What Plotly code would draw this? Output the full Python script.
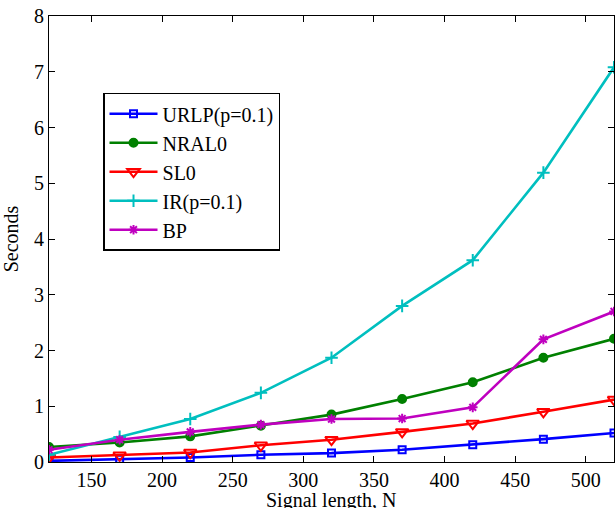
import plotly.graph_objects as go

N = [120, 170, 220, 270, 320, 370, 420, 470, 520]
urlp = [0.02, 0.05, 0.08, 0.13, 0.16, 0.22, 0.31, 0.41, 0.52]
nral0 = [0.27, 0.35, 0.46, 0.65, 0.85, 1.13, 1.43, 1.87, 2.21]
sl0 = [0.08, 0.12, 0.17, 0.30, 0.40, 0.54, 0.69, 0.90, 1.12]
ir = [0.13, 0.45, 0.77, 1.24, 1.87, 2.80, 3.62, 5.19, 7.08]
bp = [0.22, 0.40, 0.54, 0.67, 0.77, 0.78, 0.98, 2.20, 2.70]

series = [
    ("URLP(p=0.1)", urlp, "#0000FF", "square-open", 7),
    ("NRAL0", nral0, "#008000", "circle", 8),
    ("SL0", sl0, "#FF0000", "triangle-down-open", 11),
    ("IR(p=0.1)", ir, "#00BFBF", "cross-thin-open", 9),
    ("BP", bp, "#BF00BF", "asterisk-open", 8),
]

fig = go.Figure()
for name, vals, color, sym, size in series:
    fig.add_trace(go.Scatter(
        x=N, y=vals, name=name, mode="lines+markers",
        line=dict(color=color, width=2.6),
        marker=dict(symbol=sym, size=size, color=color,
                    line=dict(color=color, width=2)),
    ))

font = dict(family="Times New Roman, Liberation Serif, serif", size=20, color="black")
fig.update_layout(
    width=616, height=508,
    margin=dict(l=49, r=2, t=16, b=46),
    paper_bgcolor="white", plot_bgcolor="white",
    font=font,
    showlegend=True,
    legend=dict(x=0.0956, y=0.828, xanchor="left", yanchor="top",
                bordercolor="black", borderwidth=1.5, bgcolor="white",
                font=font, tracegroupgap=0, itemwidth=48),
    xaxis=dict(range=[120, 520], tickvals=[150, 200, 250, 300, 350, 400, 450, 500],
               ticks="inside", ticklen=6, tickcolor="black", showline=True,
               linecolor="black", linewidth=1, mirror="ticks", showgrid=False,
               zeroline=False, automargin=False, ticklabelstandoff=0),
    yaxis=dict(range=[0, 8], tickvals=list(range(0, 9)),
               ticks="inside", ticklen=6, tickcolor="black", showline=True,
               linecolor="black", linewidth=1, mirror="ticks", showgrid=False,
               zeroline=False, automargin=False,
               title=dict(text="Seconds", font=font)),
    annotations=[dict(text="Signal length, N", xref="paper", yref="paper",
                      x=0.5, y=0, xanchor="center", yanchor="top",
                      yshift=-25, showarrow=False, font=font)],
)
fig.write_html(
    "out.html",
    config={"displayModeBar": False},
    post_script="document.body.style.margin='0';document.body.style.overflow='hidden';",
)
